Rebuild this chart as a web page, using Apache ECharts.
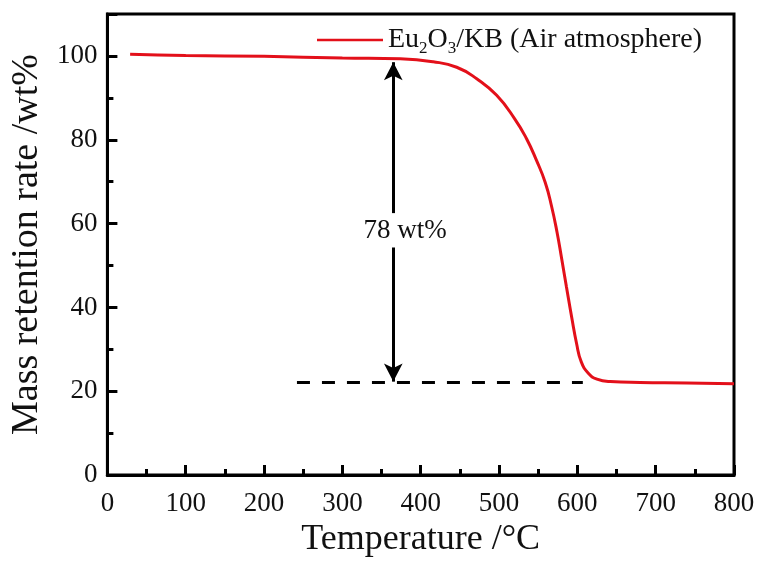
<!DOCTYPE html>
<html>
<head>
<meta charset="utf-8">
<script src="https://cdn.jsdelivr.net/npm/echarts@6/dist/echarts.min.js"></script>
<style>html,body{margin:0;padding:0;background:#fff;}#c{width:759px;height:563px;}</style>
</head>
<body>
<div id="c"></div>
<script>
// Data
const temperature = [29, 100, 200, 300, 374, 416, 446, 472, 497, 520, 535, 548, 559, 567, 574, 580, 586, 593, 599, 605, 614, 625, 642, 680, 740, 800];
const massRetention = [100.4, 100.1, 99.9, 99.5, 99.3, 98.6, 97.3, 94.5, 90.6, 85.0, 80.3, 75.0, 69.8, 64.2, 58.0, 51.6, 45.0, 37.4, 31.4, 27.0, 24.3, 22.9, 22.3, 22.1, 22.0, 21.8];
const xTicks = [0, 100, 200, 300, 400, 500, 600, 700, 800];
const yTicks = [0, 20, 40, 60, 80, 100];
const arrowX = 365;
const arrowUpper = [62.5, 98.5];   // from, to (arrow head at top)
const arrowLower = [54.3, 22.3];   // from, to (arrow head at bottom)
const dashedLine = { x: [242, 607], y: 22.2 };
const lossLabel = { x: 380, y: 58.2, text: '78 wt%' };

const FONT = '"Liberation Serif","Times New Roman",serif';
const INK = '#111';
const RED = '#e3101a';
const chart = echarts.init(document.getElementById('c'), null, { renderer: 'canvas' });

const curve = temperature.map((t, i) => [t, massRetention[i]]);

chart.setOption({
  animation: false,
  backgroundColor: '#fff',
  grid: { left: 107, right: 25, top: 14, bottom: 85, show: true, borderColor: '#000', borderWidth: 3, backgroundColor: 'transparent' },
  legend: {
    left: 312, top: 21,
    itemWidth: 66, itemHeight: 14, itemGap: 0,
    icon: 'path://M0,6 L66,6 L66,8.6 L0,8.6 Z',
    data: [{ name: 'Eu2O3/KB (Air atmosphere)', itemStyle: { color: RED } }],
    formatter: () => '{a|Eu}{s|2}{a|O}{s|3}{a|/KB (Air atmosphere)}',
    textStyle: {
      fontFamily: FONT, color: INK,
      rich: {
        a: { fontFamily: FONT, fontSize: 28, color: INK, lineHeight: 34, verticalAlign: 'middle' },
        s: { fontFamily: FONT, fontSize: 17, color: INK, lineHeight: 13, verticalAlign: 'bottom' }
      }
    }
  },
  xAxis: [{
    type: 'value', min: xTicks[0], max: xTicks[xTicks.length - 1], interval: xTicks[1] - xTicks[0],
    name: 'Temperature /°C', nameLocation: 'middle', nameGap: 43,
    nameTextStyle: { fontFamily: FONT, fontSize: 36, color: INK },
    axisLine: { show: true, lineStyle: { color: '#000', width: 3 } },
    axisTick: { show: true, inside: true, length: 10, lineStyle: { color: '#000', width: 3 } },
    axisLabel: { fontFamily: FONT, fontSize: 27, color: INK, margin: 15 },
    splitLine: { show: false }
  }, {
    type: 'value', min: xTicks[0], max: xTicks[xTicks.length - 1], interval: (xTicks[1] - xTicks[0]) / 2,
    position: 'bottom',
    axisLine: { show: false },
    axisTick: { show: true, inside: true, length: 6, lineStyle: { color: '#000', width: 3 } },
    axisLabel: { show: false }, splitLine: { show: false }
  }],
  yAxis: [{
    type: 'value', min: 0, max: 110, interval: yTicks[1] - yTicks[0],
    name: 'Mass retention rate /wt%', nameLocation: 'middle', nameGap: 60,
    nameTextStyle: { fontFamily: FONT, fontSize: 38, color: INK },
    axisLine: { show: true, lineStyle: { color: '#000', width: 3 } },
    axisTick: { show: true, inside: true, length: 10, lineStyle: { color: '#000', width: 3 } },
    axisLabel: { fontFamily: FONT, fontSize: 27, color: INK, margin: 10,
      formatter: v => (yTicks.indexOf(v) >= 0 ? String(v) : '') },
    splitLine: { show: false }
  }, {
    type: 'value', min: 0, max: 110, interval: (yTicks[1] - yTicks[0]) / 2,
    position: 'left',
    axisLine: { show: false },
    axisTick: { show: true, inside: true, length: 6, lineStyle: { color: '#000', width: 3 } },
    axisLabel: { show: false }, splitLine: { show: false }
  }],
  series: [{
    name: 'Eu2O3/KB (Air atmosphere)',
    type: 'line', xAxisIndex: 0, yAxisIndex: 0,
    data: curve, smooth: 0.5, showSymbol: false, symbol: 'none',
    lineStyle: { color: RED, width: 3 },
    itemStyle: { color: RED },
    markLine: {
      silent: true, animation: false,
      symbol: ['none', 'arrow'], symbolSize: [14, 18],
      label: { show: false },
      lineStyle: { color: '#000', width: 3, type: 'solid' },
      data: [
        [{ coord: [arrowX, arrowUpper[0]] }, { coord: [arrowX, arrowUpper[1]] }],
        [{ coord: [arrowX, arrowLower[0]] }, { coord: [arrowX, arrowLower[1]] }],
        [{ coord: [dashedLine.x[0], dashedLine.y], symbol: 'none', lineStyle: { type: [13, 12], width: 3, color: '#000' } },
         { coord: [dashedLine.x[1], dashedLine.y], symbol: 'none' }]
      ]
    }
  }, {
    type: 'scatter', xAxisIndex: 0, yAxisIndex: 0, silent: true,
    data: [[lossLabel.x, lossLabel.y]], symbolSize: 1,
    itemStyle: { color: 'rgba(0,0,0,0)', opacity: 1 },
    label: { show: true, position: 'inside', formatter: lossLabel.text,
      fontFamily: FONT, fontSize: 27, color: INK, opacity: 1 }
  }]
});
</script>
</body>
</html>
